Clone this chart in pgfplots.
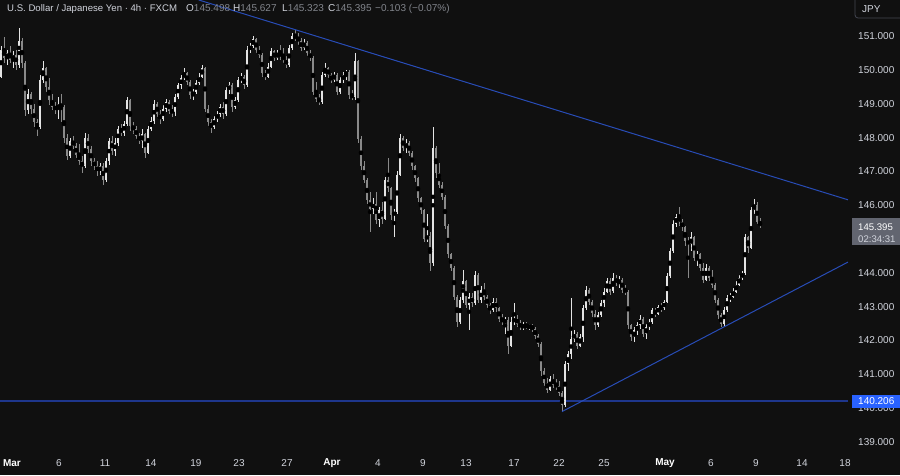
\documentclass[border=0pt]{standalone}
\usepackage{pgfplots}
\pgfplotsset{compat=1.18}
\usepackage{pgfplotstable}
\usepackage{fontspec}
\setmainfont{Liberation Sans}

\definecolor{bg}{RGB}{16,16,16}
\definecolor{txt}{RGB}{209,212,220}
\definecolor{val}{RGB}{130,133,140}
\definecolor{upc}{RGB}{228,228,228}
\definecolor{dnc}{RGB}{138,138,138}
\definecolor{tline}{RGB}{40,76,182}
\definecolor{supline}{RGB}{30,54,140}
\definecolor{boxgray}{RGB}{98,101,112}
\definecolor{boxblue}{RGB}{41,98,255}
\definecolor{border}{RGB}{67,70,81}

% 4h candles, x = horizontal position of the candle
\pgfplotstableread{
x o h l c
1 149.80 150.70 149.75 150.60
4 150.60 150.97 150.20 150.35
7 150.35 150.60 150.15 150.50
10 150.50 150.70 150.20 150.30
13 150.30 150.55 150.05 150.45
16 150.45 150.60 150.00 150.15
19 150.15 151.25 150.05 150.85
22 150.85 150.95 150.05 150.20
25 150.20 150.25 148.65 148.80
28 148.80 149.45 148.70 149.30
31 149.30 149.35 148.70 148.85
34 148.85 149.00 148.30 148.45
37 148.45 148.55 148.05 148.30
40 148.30 149.85 148.25 149.70
43 149.70 150.25 149.60 150.05
46 150.05 150.10 149.35 149.50
49 149.50 149.75 148.95 149.10
52 149.10 149.30 148.80 148.90
55 148.90 149.05 148.70 148.85
58 148.85 149.20 148.55 149.00
61 149.00 149.30 148.45 148.90
64 148.90 148.95 147.85 148.00
67 148.00 148.10 147.35 147.45
70 147.45 148.00 147.40 147.90
73 147.90 148.05 147.65 147.75
76 147.75 147.85 147.40 147.50
79 147.50 147.80 147.20 147.30
82 147.30 147.45 146.95 147.15
85 147.15 148.15 147.10 148.00
88 148.00 148.10 147.55 147.65
91 147.65 147.75 147.15 147.30
94 147.30 147.40 147.05 147.15
97 147.15 147.30 146.85 147.00
100 147.00 147.25 146.90 147.15
103 147.15 147.25 146.60 146.75
106 146.75 147.40 146.70 147.30
109 147.30 148.00 147.20 147.90
112 147.90 148.05 147.50 147.60
115 147.60 148.00 147.45 147.85
118 147.85 148.35 147.75 148.25
121 148.25 148.40 148.05 148.15
124 148.15 148.50 148.05 148.40
127 148.40 149.20 148.35 149.10
130 149.10 149.15 148.20 148.35
133 148.35 148.45 148.10 148.25
136 148.25 148.35 147.95 148.05
139 148.05 148.15 147.80 147.90
142 147.90 148.25 147.70 148.10
145 148.10 148.15 147.40 147.55
148 147.55 148.35 147.50 148.25
151 148.25 148.60 148.20 148.50
154 148.50 149.10 148.40 149.00
157 149.00 149.05 148.60 148.70
160 148.70 148.80 148.40 148.55
163 148.55 148.95 148.50 148.85
166 148.85 149.15 148.75 149.05
169 149.05 149.10 148.70 148.80
172 148.80 148.95 148.60 148.75
175 148.75 149.30 148.65 149.20
178 149.20 149.60 149.15 149.55
181 149.55 149.85 149.45 149.75
184 149.75 150.05 149.70 149.90
187 149.90 149.95 149.55 149.65
190 149.65 149.70 149.15 149.25
193 149.25 149.45 149.10 149.35
196 149.35 149.70 149.30 149.60
199 149.60 149.90 149.55 149.80
202 149.80 150.15 149.75 150.05
205 150.05 150.10 148.75 148.85
208 148.85 148.95 148.35 148.45
211 148.45 148.55 148.15 148.30
214 148.30 148.65 148.25 148.55
217 148.55 148.80 148.45 148.70
220 148.70 149.00 148.60 148.90
223 148.90 149.05 148.55 148.70
226 148.70 149.50 148.65 149.40
229 149.40 149.65 149.30 149.55
232 149.55 149.60 148.75 148.90
235 148.90 149.20 148.85 149.10
238 149.10 149.80 149.05 149.70
241 149.70 149.90 149.60 149.80
244 149.80 149.85 149.45 149.55
247 149.55 150.70 149.50 150.60
250 150.60 150.80 150.50 150.70
253 150.70 151.00 150.65 150.90
256 150.90 150.95 150.50 150.60
259 150.60 150.70 150.35 150.45
262 150.45 150.50 149.80 149.90
265 149.90 150.00 149.70 149.80
268 149.80 150.20 149.75 150.10
271 150.10 150.65 150.05 150.55
274 150.55 150.60 150.25 150.35
277 150.35 150.60 150.30 150.50
280 150.50 150.75 150.30 150.40
283 150.40 150.65 150.20 150.30
286 150.30 150.40 150.05 150.15
289 150.15 150.75 150.10 150.65
292 150.65 151.10 150.60 151.00
295 151.00 151.18 150.85 150.95
298 150.95 151.10 150.75 150.85
301 150.85 150.95 150.55 150.65
304 150.65 150.90 150.60 150.80
307 150.80 150.85 150.40 150.50
310 150.50 150.60 150.25 150.35
313 150.35 150.40 149.25 149.35
316 149.35 149.65 149.05 149.15
319 149.15 149.30 148.95 149.05
322 149.05 149.95 149.00 149.85
325 149.85 150.20 149.80 150.05
328 150.05 150.10 149.75 149.85
331 149.85 149.90 149.60 149.70
334 149.70 149.95 149.65 149.85
337 149.85 149.90 149.25 149.35
340 149.35 149.80 149.30 149.70
343 149.70 149.95 149.60 149.85
346 149.85 150.00 149.70 149.95
349 149.95 150.00 149.15 149.25
352 149.25 149.40 149.10 149.20
355 149.20 150.50 149.10 150.25
358 150.25 150.30 147.85 147.95
361 147.95 148.05 147.05 147.15
364 147.15 147.30 146.65 146.75
367 146.75 146.80 146.05 146.15
370 146.15 146.40 145.20 145.90
373 145.90 146.20 145.75 146.05
376 146.05 146.40 145.45 145.55
379 145.55 145.95 145.35 145.85
382 145.85 146.10 145.45 145.60
385 145.60 146.85 145.55 146.75
388 146.75 147.40 146.40 146.50
391 146.50 146.55 145.55 145.70
394 145.70 145.90 145.05 145.80
397 145.80 147.00 145.75 146.90
400 146.90 148.10 146.85 148.00
403 148.00 148.05 147.60 147.70
406 147.70 147.95 147.55 147.85
409 147.85 147.90 147.45 147.55
412 147.55 147.60 147.05 147.15
415 147.15 147.20 146.70 146.80
418 146.80 146.85 146.10 146.20
421 146.20 146.25 145.75 145.85
424 145.85 145.90 144.90 145.00
427 145.00 145.75 144.90 145.10
430 145.10 145.20 144.05 144.30
433 144.30 148.30 144.20 147.70
436 147.70 147.75 146.80 146.95
439 146.95 147.25 146.50 146.60
442 146.60 146.70 146.15 146.25
445 146.25 146.30 145.30 145.40
448 145.40 145.45 144.45 144.55
451 144.55 144.60 144.05 144.15
454 144.15 144.20 143.20 143.30
457 143.30 143.35 142.40 142.55
460 142.55 143.30 142.50 143.20
463 143.20 144.10 143.10 143.75
466 143.75 143.80 142.95 143.05
469 143.05 143.40 142.30 143.30
472 143.30 143.40 143.00 143.10
475 143.10 144.05 143.05 143.95
478 143.95 144.00 143.10 143.20
481 143.20 143.60 143.10 143.50
484 143.50 143.70 143.20 143.30
487 143.30 143.35 142.95 143.05
490 143.05 143.10 142.80 142.90
493 142.90 143.25 142.85 143.15
496 143.15 143.25 142.85 142.95
499 142.95 143.00 142.55 142.65
502 142.65 142.80 142.45 142.55
505 142.55 142.70 142.20 142.60
508 142.60 142.70 141.60 141.85
511 141.85 142.70 141.80 142.55
514 142.55 143.10 142.45 142.65
517 142.65 142.75 142.40 142.50
520 142.50 142.60 142.30 142.40
523 142.40 142.55 142.30 142.45
526 142.45 142.55 142.35 142.40
529 142.40 142.50 142.30 142.45
532 142.45 142.50 142.25 142.35
535 142.35 142.40 142.05 142.15
538 142.15 142.20 141.80 141.90
541 141.90 141.95 140.95 141.10
544 141.10 141.20 140.65 140.75
547 140.75 140.90 140.45 140.55
550 140.55 140.95 140.50 140.85
553 140.85 141.00 140.60 140.70
556 140.70 140.85 140.55 140.65
559 140.65 140.80 140.35 140.45
562 140.45 140.50 139.89 140.10
565 140.10 141.40 140.05 141.30
568 141.30 141.70 141.10 141.60
571 141.60 143.25 141.45 142.05
574 142.05 142.30 141.95 142.20
577 142.20 142.25 141.75 141.85
580 141.85 142.20 141.80 142.10
583 142.10 143.05 141.95 142.95
586 142.95 143.60 142.90 143.50
589 143.50 143.55 143.05 143.15
592 143.15 143.20 142.70 142.80
595 142.80 142.90 142.30 142.45
598 142.45 142.85 142.40 142.75
601 142.75 143.20 142.70 143.10
604 143.10 143.55 143.00 143.45
607 143.45 143.85 143.40 143.75
610 143.75 143.85 143.35 143.45
613 143.45 144.00 143.40 143.85
616 143.85 143.95 143.60 143.70
619 143.70 143.90 143.55 143.80
622 143.80 143.85 143.40 143.50
625 143.50 143.65 143.35 143.45
628 143.45 143.50 142.35 142.45
631 142.45 142.50 142.00 142.10
634 142.10 142.40 141.95 142.30
637 142.30 142.55 142.15 142.45
640 142.45 142.75 142.35 142.65
643 142.65 142.70 142.10 142.20
646 142.20 142.50 142.05 142.40
649 142.40 142.65 142.30 142.55
652 142.55 142.95 142.50 142.90
655 142.90 142.95 142.70 142.80
658 142.80 143.05 142.75 143.00
661 143.00 143.10 142.85 142.95
664 142.95 143.20 142.90 143.15
667 143.15 144.00 143.10 143.90
670 143.90 144.75 143.85 144.65
673 144.65 145.55 144.60 145.45
676 145.45 145.75 145.35 145.65
679 145.65 145.95 145.40 145.50
682 145.50 145.60 145.25 145.35
685 145.35 145.40 144.80 144.95
688 144.95 145.05 143.85 144.85
691 144.85 145.20 144.65 145.05
694 145.05 145.10 144.35 144.45
697 144.45 144.65 144.20 144.55
700 144.55 144.60 144.05 144.15
703 144.15 144.30 143.70 143.80
706 143.80 144.25 143.75 144.15
709 144.15 144.20 143.75 143.85
712 143.85 144.10 143.55 143.65
715 143.65 143.70 143.10 143.20
718 143.20 143.25 142.65 142.75
721 142.75 142.80 142.40 142.50
724 142.50 143.00 142.40 142.90
727 142.90 143.35 142.85 143.25
730 143.25 143.40 143.15 143.30
733 143.30 143.55 143.25 143.45
736 143.45 143.75 143.40 143.65
739 143.65 143.95 143.60 143.85
742 143.85 144.05 143.80 144.00
745 144.00 145.15 143.95 145.05
748 145.05 145.10 144.60 144.75
751 144.75 145.95 144.70 145.85
754 145.85 146.18 145.75 146.00
757 146.00 146.10 145.45 145.50
760 145.498 145.627 145.323 145.395
}\candles

\begin{document}
\fontsize{10}{12}\selectfont
\begin{tikzpicture}
\fill[bg] (0,0) rectangle (900pt,475pt);
\useasboundingbox (0,0) rectangle (900pt,475pt);
\begin{axis}[
    at={(0pt,20pt)}, anchor=south west,
    scale only axis, width=848pt, height=455pt,
    xmin=0, xmax=848, ymin=138.617, ymax=152.066,
    axis line style={draw=none},
    major tick length=0pt, tick style={draw=none},
    ytick={139,140,...,151},
    yticklabel pos=right,
    yticklabel style={anchor=west, inner sep=0pt, xshift=10pt, text=txt,
        /pgf/number format/.cd, fixed, fixed zerofill, precision=3, assume math mode=true},
    xtick={12,59,105,151,196,239,287,332,378,423,466,514,559,604,665,711,756,802,845},
    xticklabels={\textcolor{white}{\textbf{Mar}},6,11,14,19,23,27,\textcolor{white}{\textbf{Apr}},4,9,13,17,22,25,\textcolor{white}{\textbf{May}},6,9,14,18},
    xticklabel style={anchor=center, inner sep=0pt, yshift=-8pt, text=txt},
]
% support level
\addplot[supline, line width=1.4pt] coordinates {(0,140.21) (848,140.21)};
% wicks
\addplot[only marks, mark=none, restrict expr to domain={\thisrow{c}-\thisrow{o}}{0:100},
    error bars/.cd, y dir=both, y explicit, error mark=none,
    error bar style={draw=upc, line width=0.7pt}]
    table[x=x, y expr={(\thisrow{h}+\thisrow{l})/2}, y error expr={(\thisrow{h}-\thisrow{l})/2}] {\candles};
\addplot[only marks, mark=none, restrict expr to domain={\thisrow{c}-\thisrow{o}}{-100:-0.00001},
    error bars/.cd, y dir=both, y explicit, error mark=none,
    error bar style={draw=dnc, line width=0.7pt}]
    table[x=x, y expr={(\thisrow{h}+\thisrow{l})/2}, y error expr={(\thisrow{h}-\thisrow{l})/2}] {\candles};
% bodies
\addplot[only marks, mark=none, restrict expr to domain={\thisrow{c}-\thisrow{o}}{0:100},
    error bars/.cd, y dir=both, y explicit, error mark=none,
    error bar style={draw=upc, line width=2pt}]
    table[x=x, y expr={(\thisrow{o}+\thisrow{c})/2}, y error expr={max(abs(\thisrow{c}-\thisrow{o})/2,0.015)}] {\candles};
\addplot[only marks, mark=none, restrict expr to domain={\thisrow{c}-\thisrow{o}}{-100:-0.00001},
    error bars/.cd, y dir=both, y explicit, error mark=none,
    error bar style={draw=dnc, line width=2pt}]
    table[x=x, y expr={(\thisrow{o}+\thisrow{c})/2}, y error expr={max(abs(\thisrow{c}-\thisrow{o})/2,0.015)}] {\candles};
% trend lines
\addplot[tline, line width=1pt] coordinates {(198.8,152.066) (848,146.16)};
\addplot[tline, line width=1pt] coordinates {(562,139.90) (848,144.32)};
\end{axis}
% header
\node[anchor=base west, inner sep=0pt, text=txt, font=\fontsize{9.6}{11}\selectfont] at (7pt,463pt) {U.S. Dollar / Japanese Yen · 4h · FXCM};
\node[anchor=base west, inner sep=0pt] at (186pt,463pt) {\textcolor{txt}{O}\textcolor{val}{145.498}};
\node[anchor=base west, inner sep=0pt] at (233pt,463pt) {\textcolor{txt}{H}\textcolor{val}{145.627}};
\node[anchor=base west, inner sep=0pt] at (282pt,463pt) {\textcolor{txt}{L}\textcolor{val}{145.323}};
\node[anchor=base west, inner sep=0pt] at (328pt,463pt) {\textcolor{txt}{C}\textcolor{val}{145.395}};
\node[anchor=base west, inner sep=0pt, text=val] at (375pt,463pt) {−0.103 (−0.07\%)};
% price scale boxes
\draw[border, line width=0.8pt, rounded corners=3pt] (855pt,480pt) -- (855pt,457pt) -- (906pt,457pt);
\node[anchor=west, inner sep=0pt, text=txt] at (862pt,466pt) {JPY};
\fill[boxgray] (852pt,230pt) rectangle (900pt,257pt);
\node[anchor=base west, inner sep=0pt, text=white, font=\fontsize{9.6}{11}\selectfont] at (858pt,245pt) {145.395};
\node[anchor=base west, inner sep=0pt, text=txt, font=\fontsize{9.6}{11}\selectfont] at (858pt,233pt) {02:34:31};
\fill[boxblue] (852pt,67pt) rectangle (900pt,80pt);
\node[anchor=west, inner sep=0pt, text=white] at (858pt,73.5pt) {140.206};
\end{tikzpicture}
\end{document}
